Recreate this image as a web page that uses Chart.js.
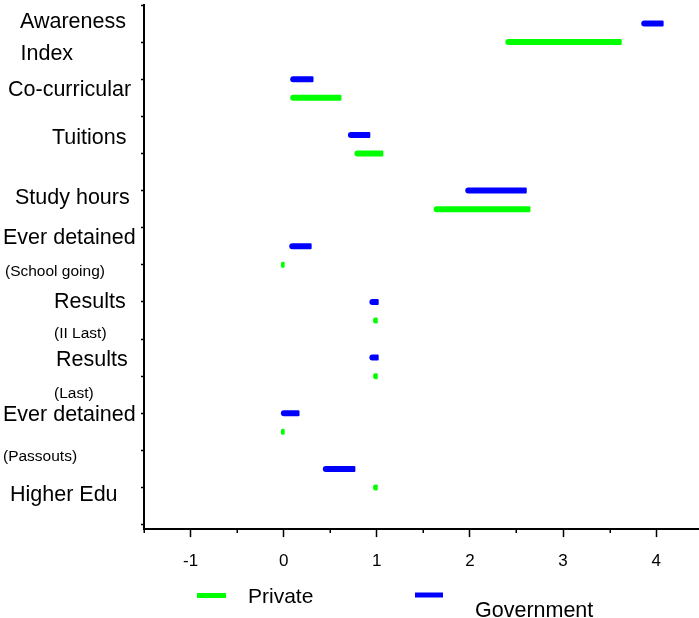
<!DOCTYPE html>
<html>
<head>
<meta charset="utf-8">
<script src="https://cdn.jsdelivr.net/npm/chart.js@4.4.1/dist/chart.umd.min.js"></script>
<style>
  html, body { margin: 0; padding: 0; background: #fff; overflow: hidden; }
  #wrap { width: 699px; height: 618px; position: relative; }
</style>
</head>
<body>
<div id="wrap"><canvas id="c" width="699" height="618"></canvas></div>
<script>
const categories = [
  'Awareness Index', 'Co-curricular', 'Tuitions', 'Study hours',
  'Ever detained (School going)', 'Results (II Last)', 'Results (Last)',
  'Ever detained (Passouts)', 'Higher Edu'
];

// row of each category on the vertical scale (government above, private below)
const governmentRow = [1, 4, 7, 10, 13, 16, 19, 22, 25];
const privateRow    = [2, 5, 8, 11, 14, 17, 20, 23, 26];

// interval ends per category
const governmentLow  = [3.84, 0.07, 0.69, 1.95, 0.06, 0.92, 0.92, -0.03, 0.42];
const governmentHigh = [4.08, 0.32, 0.93, 2.61, 0.30, 1.02, 1.02, 0.17, 0.77];
const privateLow     = [2.38, 0.07, 0.76, 1.61, -0.03, 0.96, 0.96, -0.03, 0.96];
const privateHigh    = [3.63, 0.62, 1.07, 2.65, 0.01, 1.01, 1.01, 0.01, 1.01];

const xTickValues = [-1, 0, 1, 2, 3, 4];
const xMinorTickValues = [-1.5, -0.5, 0.5, 1.5, 2.5, 3.5];
const yTickValues = [0, 2, 4, 6, 8, 10, 12, 14, 16, 18, 20, 22, 24, 26, 28];

const FONT = '"Liberation Sans", Arial, Helvetica, sans-serif';
const GREEN = '#00ff00';
const BLUE = '#0000ff';

// text beside the vertical axis: line, row position, left edge, size
const sideLabels = [
  { text: 'Awareness',      at: 0.92,  x: 20,  size: 21.5 },
  { text: 'Index',          at: 2.64,  x: 20.5, size: 21.5 },
  { text: 'Co-curricular',  at: 4.60,  x: 8,   size: 21.5 },
  { text: 'Tuitions',       at: 7.19,  x: 52,  size: 21.5 },
  { text: 'Study hours',    at: 10.39, x: 15,  size: 21.5 },
  { text: 'Ever detained',  at: 12.54, x: 3,   size: 21.5 },
  { text: '(School going)', at: 14.35, x: 5,   size: 15.5 },
  { text: 'Results',        at: 16.0,  x: 54,  size: 21.5 },
  { text: '(II Last)',      at: 17.7,  x: 54,  size: 15.5 },
  { text: 'Results',        at: 19.15, x: 56,  size: 21.5 },
  { text: '(Last)',         at: 20.93, x: 54,  size: 15.5 },
  { text: 'Ever detained',  at: 22.12, x: 3,   size: 21.5 },
  { text: '(Passouts)',     at: 24.33, x: 3,   size: 15.5 },
  { text: 'Higher Edu',     at: 26.43, x: 10,  size: 21.5 }
];

const legendItems = [
  { text: 'Private',    color: GREEN, swatchX: 197, swatchW: 29, swatchY: 595.5, textX: 248, textY: 597, size: 21 },
  { text: 'Government', color: BLUE,  swatchX: 415, swatchW: 28, swatchY: 595,   textX: 475, textY: 611, size: 21.5 }
];

function rangeData(rows, lows, highs) {
  return rows.map((r, i) => ({ y: r, x: [lows[i], highs[i]] }));
}

const barStyle = {
  borderWidth: 0,
  borderSkipped: false,
  borderRadius: { topLeft: 3, bottomLeft: 3, topRight: 1, bottomRight: 1 },
  maxBarThickness: 6,
  grouped: false
};

const decor = {
  id: 'decor',
  afterDraw(chart) {
    const ctx = chart.ctx;
    const xs = chart.scales.x;
    const ys = chart.scales.y;
    ctx.save();

    // short half-unit ticks under the horizontal axis
    ctx.strokeStyle = '#000';
    ctx.lineWidth = 1.5;
    xMinorTickValues.forEach(v => {
      const px = Math.round(xs.getPixelForValue(v)) + 0.25;
      ctx.beginPath();
      ctx.moveTo(px, xs.top);
      ctx.lineTo(px, xs.top + 4);
      ctx.stroke();
    });

    // category names left of the vertical axis
    ctx.fillStyle = '#000';
    ctx.textAlign = 'left';
    ctx.textBaseline = 'middle';
    sideLabels.forEach(l => {
      ctx.font = l.size + 'px ' + FONT;
      ctx.fillText(l.text, l.x, ys.getPixelForValue(l.at));
    });

    // legend
    legendItems.forEach(it => {
      ctx.fillStyle = it.color;
      ctx.fillRect(it.swatchX, it.swatchY - 2.5, it.swatchW, 5);
      ctx.fillStyle = '#000';
      ctx.font = it.size + 'px ' + FONT;
      ctx.fillText(it.text, it.textX, it.textY);
    });

    ctx.restore();
  }
};

new Chart(document.getElementById('c'), {
  type: 'bar',
  data: {
    datasets: [
      Object.assign({ label: 'Private', data: rangeData(privateRow, privateLow, privateHigh), backgroundColor: GREEN }, barStyle),
      Object.assign({ label: 'Government', data: rangeData(governmentRow, governmentLow, governmentHigh), backgroundColor: BLUE }, barStyle)
    ]
  },
  options: {
    indexAxis: 'y',
    responsive: false,
    animation: false,
    layout: { padding: { left: 141, top: 5, right: 0, bottom: 31.5 } },
    plugins: { legend: { display: false }, tooltip: { enabled: false } },
    scales: {
      x: {
        type: 'linear',
        position: 'bottom',
        min: -1.5,
        max: 4.46,
        afterBuildTicks: axis => { axis.ticks = xTickValues.map(v => ({ value: v })); },
        border: { display: true, color: '#000', width: 2 },
        grid: { display: true, drawOnChartArea: false, drawTicks: true, tickLength: 8, tickWidth: 1.5, tickColor: '#000' },
        ticks: { color: '#000', font: { family: FONT, size: 17 }, padding: 14.5, maxRotation: 0, autoSkip: false }
      },
      y: {
        type: 'linear',
        reverse: true,
        min: 0,
        max: 28.24,
        offset: false,
        afterBuildTicks: axis => { axis.ticks = yTickValues.map(v => ({ value: v })); },
        border: { display: true, color: '#000', width: 2 },
        grid: { display: true, offset: false, drawOnChartArea: false, drawTicks: true, tickLength: 3, tickWidth: 1.5, tickColor: '#000' },
        ticks: { display: false }
      }
    }
  },
  plugins: [decor]
});
</script>
</body>
</html>
